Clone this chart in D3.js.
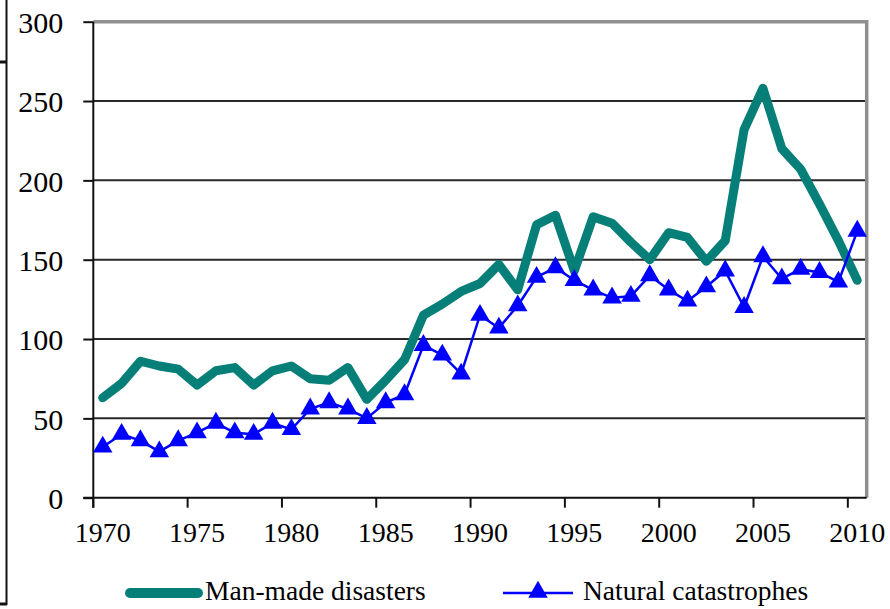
<!DOCTYPE html>
<html>
<head>
<meta charset="utf-8">
<script src="https://cdn.jsdelivr.net/npm/d3@7"></script>
<style>
  html, body { margin: 0; padding: 0; background: #fff; }
  svg { display: block; }
</style>
</head>
<body>
<svg id="chart" width="890" height="609"></svg>
<script>
// ---- data ----
const years = [1970,1971,1972,1973,1974,1975,1976,1977,1978,1979,
               1980,1981,1982,1983,1984,1985,1986,1987,1988,1989,
               1990,1991,1992,1993,1994,1995,1996,1997,1998,1999,
               2000,2001,2002,2003,2004,2005,2006,2007,2008,2009,2010];
const manMade = [63,72,86,83,81,71,80,82,71,80,
                 83,75,74,82,62,74,87,115,122,130,
                 135,147,131,172,178,143,177,173,161,150,
                 167,164,149,162,232,258,220,207,185,162,
                 137];
const natural = [32,40,36,29,36,41,47,41,40,47,
                 43,56,60,56,50,60,65,96,90,78,
                 115,107,121,139,145,137,131,126,127,140,
                 131,124,133,143,120,152,138,144,142,136,
                 168];
const xTickYears = [1970,1975,1980,1985,1990,1995,2000,2005,2010];
const yTicks = [0,50,100,150,200,250,300];
const seriesNames = ["Man-made disasters", "Natural catastrophes"];
const colors = ["#077f79", "#0000ff"];

const FONT = "'Liberation Serif', 'DejaVu Serif', serif";

// ---- layout ----
const svg = d3.select("#chart");
const L = 93.3, R = 866.7, T = 21.7, B = 497.7;

const x = d3.scaleBand().domain(years).range([L, R]).padding(0);
const bw = x.bandwidth();
const cx = yr => x(yr) + bw / 2;
const y = d3.scaleLinear().domain([0, 300]).range([B, T]);

// outer frame fragments (cropped border of the original)
svg.append("line").attr("x1", 6.5).attr("x2", 6.5).attr("y1", 0).attr("y2", 605)
  .attr("stroke", "#111").attr("stroke-width", 2);
svg.append("line").attr("x1", 0).attr("x2", 7).attr("y1", 62).attr("y2", 62)
  .attr("stroke", "#111").attr("stroke-width", 3);
svg.append("line").attr("x1", 0).attr("x2", 7).attr("y1", 604).attr("y2", 604)
  .attr("stroke", "#111").attr("stroke-width", 3);

// gridlines
svg.append("g").selectAll("line").data(yTicks.filter(d => d > 0 && d < 300)).join("line")
  .attr("x1", L).attr("x2", R)
  .attr("y1", d => y(d)).attr("y2", d => y(d))
  .attr("stroke", "#2a2a2a").attr("stroke-width", 2);

// plot border top/right (gray)
svg.append("path")
  .attr("d", `M${L},${y(300)} H${R} V${B}`)
  .attr("fill", "none").attr("stroke", "#8f8f8f").attr("stroke-width", 3.5);

// y axis
const yAxis = d3.axisLeft(y).tickValues(yTicks).tickSize(10).tickPadding(20);
const gy = svg.append("g").attr("transform", `translate(${L},0)`).call(yAxis)
  .attr("font-family", FONT).attr("font-size", 30);
gy.select(".domain").attr("stroke", "#111").attr("stroke-width", 2).attr("d", `M0,${T}V${B + 10}`);
gy.selectAll(".tick line").attr("stroke", "#111").attr("stroke-width", 2);
gy.selectAll(".tick text").attr("fill", "#000").attr("dy", "0.36em");

// x axis line
svg.append("line").attr("x1", L - 10).attr("x2", R).attr("y1", B).attr("y2", B)
  .attr("stroke", "#111").attr("stroke-width", 2);
// x ticks at band boundaries
svg.append("g").selectAll("line").data(xTickYears).join("line")
  .attr("x1", d => x(d)).attr("x2", d => x(d))
  .attr("y1", B).attr("y2", B + 10)
  .attr("stroke", "#111").attr("stroke-width", 2);
// x labels at category centres
svg.append("g").attr("font-family", FONT).attr("font-size", 28)
  .selectAll("text").data(xTickYears).join("text")
  .attr("x", d => cx(d)).attr("y", 542)
  .attr("text-anchor", "middle")
  .text(d => d);

// lines
const lineGen = d3.line().x((d, i) => cx(years[i])).y(d => y(d));
svg.append("path").datum(manMade)
  .attr("d", lineGen)
  .attr("fill", "none").attr("stroke", colors[0]).attr("stroke-width", 9)
  .attr("stroke-linejoin", "round").attr("stroke-linecap", "round");

svg.append("path").datum(natural)
  .attr("d", lineGen)
  .attr("fill", "none").attr("stroke", colors[1]).attr("stroke-width", 2.5)
  .attr("stroke-linejoin", "round");

const tri = d3.symbol().type(d3.symbolTriangle).size(165);
svg.append("g").selectAll("path").data(natural).join("path")
  .attr("d", tri)
  .attr("transform", (d, i) => `translate(${cx(years[i])},${y(d)})`)
  .attr("fill", colors[1]);

// legend
const lg = svg.append("g").attr("font-family", FONT).attr("font-size", 27.5);
lg.append("line").attr("x1", 130).attr("x2", 198).attr("y1", 593).attr("y2", 593)
  .attr("stroke", colors[0]).attr("stroke-width", 10).attr("stroke-linecap", "round");
lg.append("text").attr("x", 205).attr("y", 600).text(seriesNames[0]);
lg.append("line").attr("x1", 503).attr("x2", 573).attr("y1", 593).attr("y2", 593)
  .attr("stroke", colors[1]).attr("stroke-width", 2.5);
lg.append("path").attr("d", tri).attr("transform", "translate(538,592)").attr("fill", colors[1]);
lg.append("text").attr("x", 583).attr("y", 600).text(seriesNames[1]);
</script>
</body>
</html>
